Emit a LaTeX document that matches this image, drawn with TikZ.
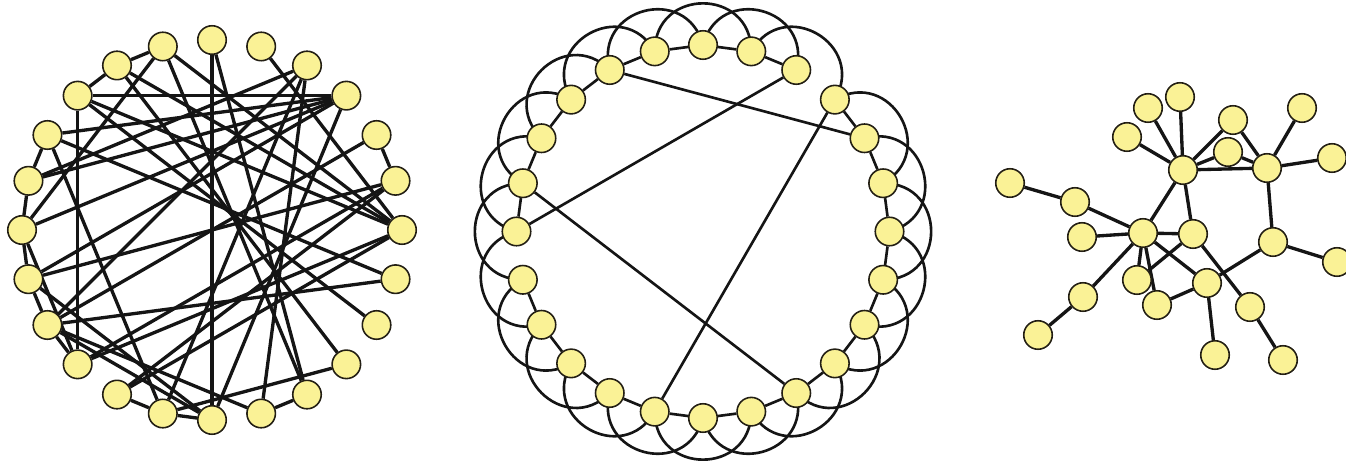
\documentclass[tikz,border=0pt]{standalone}
\usetikzlibrary{backgrounds}
\definecolor{vertexfill}{HTML}{FAF296}
\definecolor{vertexline}{HTML}{231F14}
\definecolor{edgeline}{HTML}{151515}

\begin{document}
\begin{tikzpicture}[
    x=0.02cm, y=0.02cm,
    vertex/.style={circle, draw=vertexline, line width=0.9pt, fill=vertexfill,
        minimum size=0.57cm, inner sep=0pt},
    link/.style={draw=edgeline, line width=1.9pt},
    lattice/.style={draw=edgeline, line width=1.5pt},
]
\useasboundingbox (0,0) rectangle (1346,461);

% Random graph (left)
\begin{scope}[shift={(212,231)}]
\foreach \k in {0,...,23}
    \node[vertex] (rnd\k) at ({90-15*\k}:190) {};
\end{scope}

% Ring lattice with a few shortcuts (middle)
\begin{scope}[shift={(703,229.5)}]
\foreach \k in {0,...,23}
    \node[vertex] (ring\k) at ({90-15*\k}:186.5) {};
\end{scope}

% Hubs (right)
\foreach \n/\x/\y in {a/1010/278, b/1075/259, c/1082/224, d/1143/228, e/1193/227,
        f/1183/291, g/1127/324, h/1148/353, i/1180/364, j/1233/341, k/1228/309,
        l/1267/293, m/1302/353, n/1332/303, o/1273/219, p/1337/199, q/1207/178,
        r/1137/181, s/1157/156, t/1250/154, u/1283/101, v/1215/106, w/1083/164,
        x/1038/126}
    \node[vertex] (hub\n) at (\x,\y) {};

\begin{scope}[on background layer]
% Random edges
\foreach \a/\b in {0/12, 0/10, 1/6, 2/11, 2/19, 2/13, 2/16, 3/21, 3/20, 3/17,
        3/18, 3/19, 3/12, 4/5, 4/16, 5/15, 5/14, 5/17, 6/22, 6/21, 6/23, 6/15,
        6/14, 7/20, 7/16, 8/21, 9/13, 9/22, 10/11, 10/23, 12/17, 12/16, 12/13,
        13/14, 13/20, 15/21, 15/18, 16/11, 16/15, 17/16, 18/17, 19/18, 19/20,
        22/21, 22/23, 23/18}
    \draw[link] (rnd\a) -- (rnd\b);

% Lattice: neighbours
\foreach \k in {0,1,3,4,5,6,7,8,9,10,11,12,13,14,15,16,18,19,20,21,22,23}{
    \pgfmathtruncatemacro\nxt{mod(\k+1,24)}
    \draw[lattice] (ring\k) -- (ring\nxt);
}
% Lattice: second neighbours as outer arcs
\foreach \k in {0,1,3,4,5,6,7,8,9,10,11,12,13,14,15,16,17,18,19,20,21,22,23}{
    \pgfmathtruncatemacro\skp{mod(\k+2,24)}
    \pgfmathsetmacro\dir{75-15*\k}
    \draw[lattice] (ring\k.center) to[out=\dir, in=\dir, looseness=1.7] (ring\skp.center);
}
% Shortcuts
\foreach \a/\b in {22/4, 2/18, 19/10, 3/13}
    \draw[lattice] (ring\a) -- (ring\b);

% Hub edges
\foreach \a/\b in {a/b, b/d, c/d, d/e, d/f, d/r, d/s, d/q, d/w, w/x, e/f, e/r,
        e/t, t/u, s/q, q/v, q/o, o/p, o/l, l/n, l/m, l/f, l/j, l/k, f/k, f/j,
        f/g, f/h, f/i}
    \draw[link] (hub\a) -- (hub\b);
\end{scope}

\end{tikzpicture}
\end{document}
